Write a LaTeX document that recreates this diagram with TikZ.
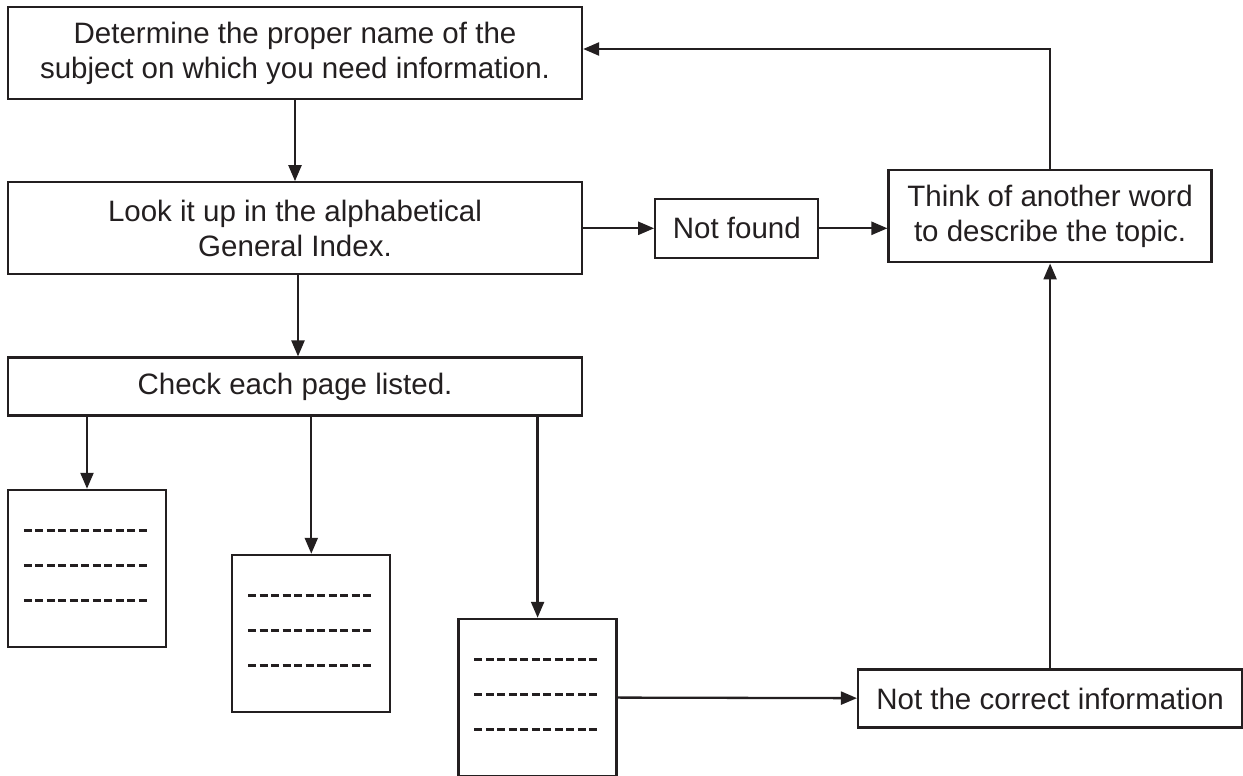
\documentclass[tikz,border=0pt]{standalone}
\usepackage{fontspec}
\setmainfont{Liberation Sans}
\usetikzlibrary{positioning,arrows.meta}

\definecolor{ink}{HTML}{231F20}

\begin{document}
\begin{tikzpicture}[
  x=0.5pt, y=-0.5pt,
  >={Triangle[length=8pt,width=6.5pt]},
  font=\fontsize{14.75}{17.5}\selectfont,
  stepbox/.style={rectangle, draw=ink, line width=1.15pt, text=ink, align=center, inner sep=0pt},
  wide/.style   ={stepbox, minimum width=287pt},
  page/.style   ={rectangle, draw=ink, line width=1.15pt, minimum width=79pt, minimum height=78.5pt, inner sep=0pt},
  ruled/.style  ={ink, line width=1.4pt, dash pattern=on 4pt off 1.75pt},
  arc/.style    ={->, ink, line width=1.15pt},
]
\useasboundingbox (0,0) rectangle (1243,776);

% ---- Main column ------------------------------------------------------------
\node[wide, minimum height=46pt] (name) at (295,53)
  {Determine the proper name of the\\subject on which you need information.};
\node[wide, minimum height=46pt, below=40.5pt of name] (index)
  {Look it up in the alphabetical\\General Index.};
\node[wide, minimum height=29pt, below=40.5pt of index] (check)
  {Check each page listed.};

% ---- Retry branch -------------------------------------------------------------
\node[stepbox, minimum width=81.5pt, minimum height=29.5pt, right=35.5pt of index] (notfound)
  {Not found};
\node[stepbox, minimum width=161.5pt, minimum height=46pt, right=34pt of notfound, yshift=6pt] (other)
  {Think of another word\\to describe the topic.};
\node[stepbox, minimum width=192pt, minimum height=29pt, below=202.5pt of other] (wrong)
  {Not the correct information};

% ---- Pages ----------------------------------------------------------------------
\node[page, below=36pt of check.south west, anchor=north west] (p1) {};
\node[page, right=32pt of p1, yshift=-32.5pt] (p2) {};
\node[page, right=33pt of p2, yshift=-32pt] (p3) {};

\foreach \p in {p1,p2,p3}
  \foreach \dy in {21,38.5,56}
    \draw[ruled] ([xshift=8.5pt,yshift=-\dy pt]\p.north west) -- ++(123,0);

% ---- Arrows -------------------------------------------------------------------
\draw[arc] (name) -- (index);
\draw[arc] ([xshift=1.5pt]index.south) -- ([xshift=1.5pt]check.north);
\foreach \p in {p1,p2,p3}
  \draw[arc] (check.south -| \p) -- (\p);

\draw[arc] (index.east |- notfound) -- (notfound);
\draw[arc] (notfound) -- (notfound -| other.west);
\draw[arc] (other.north) |- ([yshift=2pt]name.east);

\draw[arc] (p3) -- (wrong);
\draw[arc] (wrong) -- (other);

\end{tikzpicture}
\end{document}
